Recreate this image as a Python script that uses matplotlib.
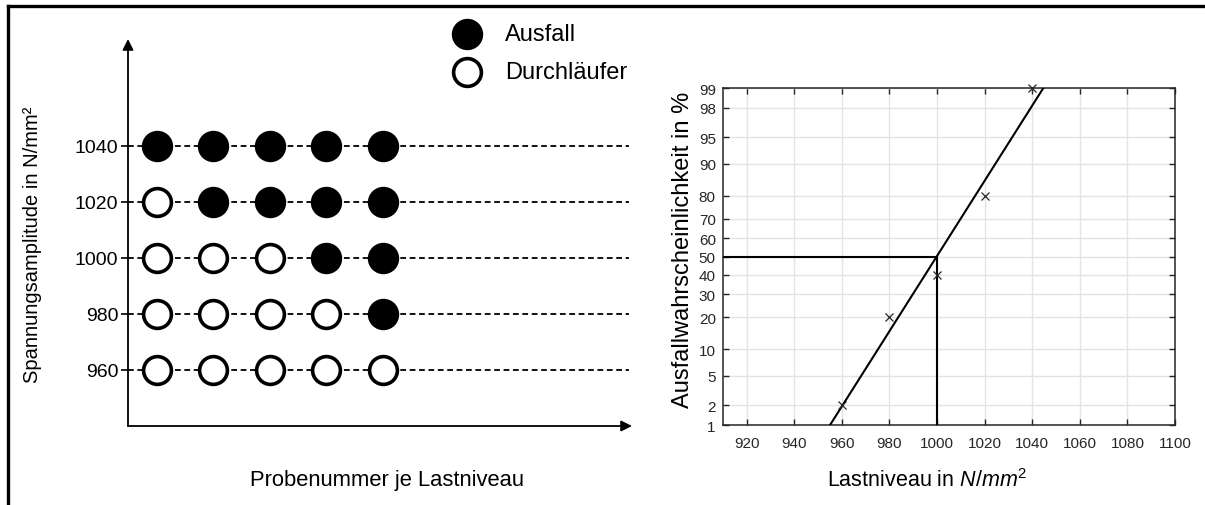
import numpy as np
import matplotlib
matplotlib.use("Agg")
import matplotlib.pyplot as plt
from matplotlib.lines import Line2D
from statistics import NormalDist

plt.rcParams['font.family'] = ['Liberation Sans', 'DejaVu Sans']
plt.rcParams['mathtext.fontset'] = 'custom'
plt.rcParams['mathtext.rm'] = 'Liberation Sans'
plt.rcParams['mathtext.it'] = 'Liberation Sans:italic'

# ---------------- data ----------------
levels = [1040, 1020, 1000, 980, 960]          # stress levels (left chart)
specimens = [1, 2, 3, 4, 5]                    # specimen number per level
# 1 = Ausfall (failure), 0 = Durchläufer (runout)
outcome_1040 = [1, 1, 1, 1, 1]
outcome_1020 = [0, 1, 1, 1, 1]
outcome_1000 = [0, 0, 0, 1, 1]
outcome_980 = [0, 0, 0, 0, 1]
outcome_960 = [0, 0, 0, 0, 0]
outcomes = [outcome_1040, outcome_1020, outcome_1000, outcome_980, outcome_960]

# right chart: probability plot
load_levels = [960, 980, 1000, 1020, 1040]
fail_prob = [2, 20, 40, 80, 99]
fit_x = [955.1, 1044.7]
fit_p = [1, 99]
p50_x = 1000
p50 = 50
x_ticks = [920, 940, 960, 980, 1000, 1020, 1040, 1060, 1080, 1100]
y_ticks = [1, 2, 5, 10, 20, 30, 40, 50, 60, 70, 80, 90, 95, 98, 99]

W, H = 1205, 506
fig = plt.figure(figsize=(W / 100, H / 100), dpi=100)

# ---------------- frame ----------------
fig.add_artist(Line2D([8 / W, 1], [1 - 7 / H, 1 - 7 / H], transform=fig.transFigure,
                      color='black', lw=2.4, solid_capstyle='projecting'))
fig.add_artist(Line2D([8 / W, 8 / W], [1 - 7 / H, 0], transform=fig.transFigure,
                      color='black', lw=2.4, solid_capstyle='projecting'))

# ---------------- left chart ----------------
axL = fig.add_axes([128 / W, 79 / H, 504 / W, 387 / H])
axL.set_xlim(0.49, 9.41)
axL.set_ylim(940, 1078)
for s in axL.spines.values():
    s.set_visible(False)
axL.set_xticks([])
axL.set_yticks(levels)
axL.set_yticklabels([str(v) for v in levels])
axL.tick_params(axis='y', direction='out', length=5, width=1.2, pad=2,
                labelsize=14, colors='black')
axL.set_facecolor('none')

for lev in levels:
    axL.plot([0.49, 9.35], [lev, lev], color='black', lw=1.3,
             linestyle=(0, (3.2, 2.0)), zorder=1)
for lev, row in zip(levels, outcomes):
    for sp, o in zip(specimens, row):
        axL.plot(sp, lev, marker='o', ms=20, mew=2.6, mec='black',
                 mfc='black' if o else 'white', zorder=3, linestyle='none')

axL.annotate('', xy=(0, 1.0), xytext=(0, 0), xycoords='axes fraction',
             arrowprops=dict(arrowstyle='-|>', lw=1.3, color='black',
                             mutation_scale=16, shrinkA=0, shrinkB=0))
axL.annotate('', xy=(1.0, 0), xytext=(0, 0), xycoords='axes fraction',
             arrowprops=dict(arrowstyle='-|>', lw=1.3, color='black',
                             mutation_scale=16, shrinkA=0, shrinkB=0))

fig.text(33 / W, 1 - 245 / H, 'Spannungsamplitude in N/mm²', rotation=90,
         ha='center', va='center', fontsize=14.5)
fig.text(387 / W, 1 - 481 / H, 'Probenummer je Lastniveau', ha='center',
         va='center', fontsize=15.8)

# legend
fig.add_artist(Line2D([467 / W], [1 - 35 / H], transform=fig.transFigure, marker='o',
                      ms=20, mew=2.6, mec='black', mfc='black', linestyle='none'))
fig.add_artist(Line2D([467 / W], [1 - 73 / H], transform=fig.transFigure, marker='o',
                      ms=20, mew=2.6, mec='black', mfc='white', linestyle='none'))
fig.text(505 / W, 1 - 35 / H, 'Ausfall', ha='left', va='center', fontsize=17)
fig.text(505 / W, 1 - 73 / H, 'Durchläufer', ha='left', va='center', fontsize=17)

# ---------------- right chart ----------------
ND = NormalDist()
_ppf = np.vectorize(ND.inv_cdf, otypes=[float])
_cdf = np.vectorize(ND.cdf, otypes=[float])


def fwd(p):
    p = np.clip(np.asarray(p, dtype=float), 1e-6, 100 - 1e-6)
    return _ppf(p / 100.0)


def inv(z):
    return _cdf(np.asarray(z, dtype=float)) * 100.0


axR = fig.add_axes([722.7 / W, 80 / H, 452.3 / W, 337 / H])
axR.set_yscale('function', functions=(fwd, inv))
axR.set_xlim(910, 1100)
axR.set_ylim(1, 99)
axR.set_xticks(x_ticks)
axR.set_yticks(y_ticks)
axR.set_yticklabels([str(v) for v in y_ticks])
axR.set_xticklabels([str(v) for v in x_ticks])
axR.minorticks_off()
axR.grid(True, color='#e3e3e3', lw=1.0)
axR.set_axisbelow(True)
for s in axR.spines.values():
    s.set_color('#262626')
    s.set_linewidth(1.1)
axR.tick_params(direction='in', length=4, width=1.0, top=True, right=True,
                labelsize=11, colors='#262626', labelcolor='#262626')
axR.tick_params(axis='x', pad=8)
axR.tick_params(axis='y', pad=5)

axR.plot(fit_x, fit_p, color='black', lw=1.5, zorder=3)
axR.plot([910, p50_x], [p50, p50], color='black', lw=1.5, zorder=3)
axR.plot([p50_x, p50_x], [1, p50], color='black', lw=1.5, zorder=3)
axR.plot(load_levels, fail_prob, linestyle='none', marker='x', ms=6, mew=0.9,
         color='#262626', zorder=4, clip_on=False)

axR.set_xlabel(r'Lastniveau in $\mathit{N/mm}^{\mathit{2}}$', fontsize=15.5)
axR.xaxis.set_label_coords((927 - 722.7) / 452.3, -(481 - 426) / 337)
axR.xaxis.label.set_va('center')
axR.set_ylabel('Ausfallwahrscheinlichkeit in %', fontsize=17)
axR.yaxis.set_label_coords(-(722.7 - 683) / 452.3, (426 - 250) / 337)
axR.yaxis.label.set_va('center')

fig.savefig('out.png', dpi=100)
